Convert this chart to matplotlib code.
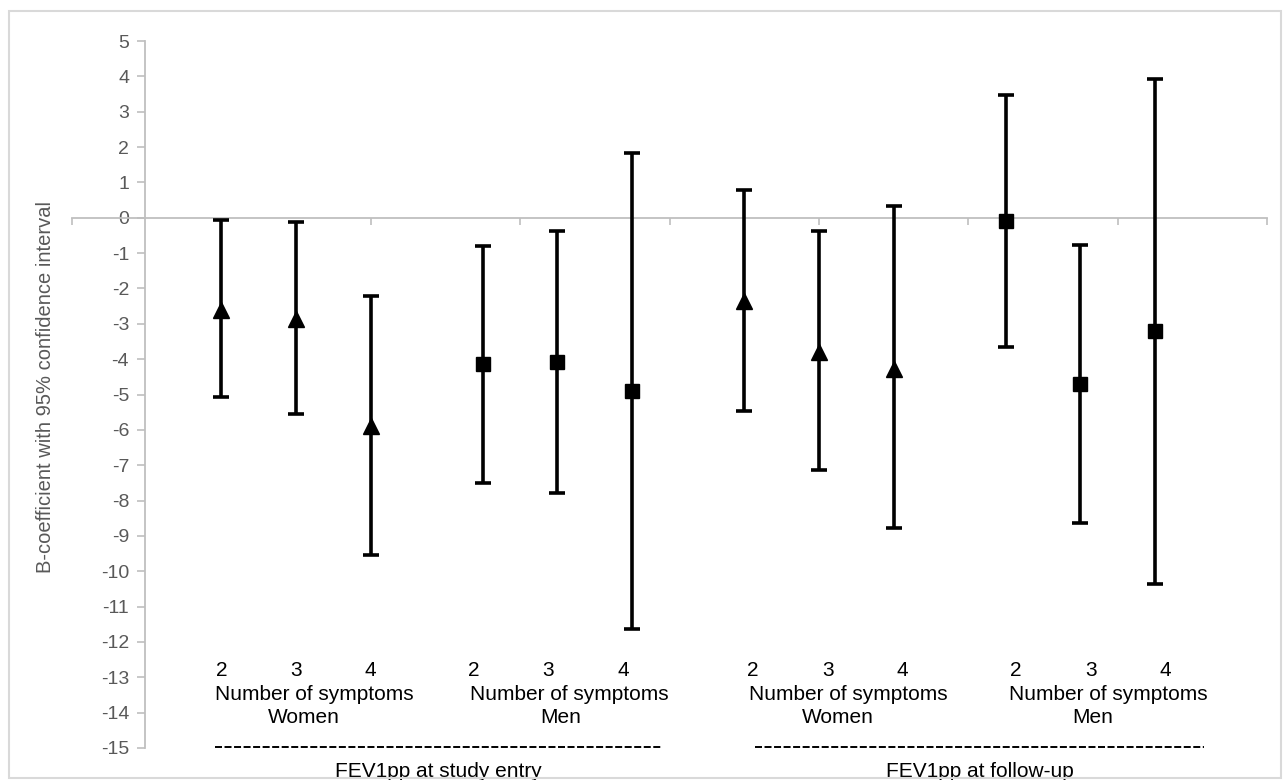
import numpy as np
import matplotlib.pyplot as plt
from matplotlib.patches import Rectangle

plt.rcParams['font.family'] = ['Liberation Sans', 'DejaVu Sans']

# data: B-coefficient (point) with 95% CI, per number of symptoms
symptoms = [2, 3, 4]

entry_women_b = [-2.60, -2.87, -5.90]
entry_women_lo = [-5.08, -5.56, -9.54]
entry_women_hi = [-0.05, -0.12, -2.22]

entry_men_b = [-4.13, -4.08, -4.90]
entry_men_lo = [-7.49, -7.80, -11.63]
entry_men_hi = [-0.80, -0.38, 1.82]

follow_women_b = [-2.36, -3.81, -4.28]
follow_women_lo = [-5.48, -7.14, -8.79]
follow_women_hi = [0.78, -0.38, 0.33]

follow_men_b = [-0.10, -4.71, -3.20]
follow_men_lo = [-3.67, -8.64, -10.36]
follow_men_hi = [3.46, -0.78, 3.93]

group_names = ["Women", "Men", "Women", "Men"]
period_names = ["FEV1pp at study entry", "FEV1pp at follow-up"]

# layout (category units on an 8-slot axis)
group_start = [1.0, 2.75, 4.5, 6.25]
digit_shift = [0.0, -0.06, 0.06, 0.07]
title_center = [1.62, 3.33, 5.20, 6.94]
sub_center = [1.55, 3.27, 5.13, 6.83]
dash_span = [(0.96, 3.94), (4.57, 7.58)]

W, H = 1283, 780
fig = plt.figure(figsize=(W / 100, H / 100), dpi=100)
ax = fig.add_axes([72 / W, 1 - 748 / H, (1267 - 72) / W, (748 - 41) / H])
ax.set_xlim(0, 8)
ax.set_ylim(-15, 5)

grey = '#BFBFBF'
for side in ['top', 'right']:
    ax.spines[side].set_visible(False)
ax.spines['left'].set_position(('data', 0.492))
ax.spines['bottom'].set_position(('data', 0))
ax.spines['left'].set_bounds(-15, 5)
ax.spines['bottom'].set_bounds(0, 8)
for side in ['left', 'bottom']:
    ax.spines[side].set_color(grey)
    ax.spines[side].set_linewidth(1.3)

yt = np.arange(-15, 6)
ax.set_yticks(yt)
ax.set_yticklabels([str(v) for v in yt])
ax.tick_params(axis='y', direction='out', length=5.8, width=1.2, color=grey,
               labelcolor='#595959', labelsize=14, pad=6)
ax.set_xticks(np.arange(0, 9))
ax.set_xticklabels([])
ax.tick_params(axis='x', direction='out', length=5.3, width=1.2, color=grey)

ax.set_ylabel("B-coefficient with 95% confidence interval", color='#595959', fontsize=14.5)
ax.yaxis.set_label_coords(-0.0142, 0.51)

series = [
    (entry_women_b, entry_women_lo, entry_women_hi, '^', 11),
    (entry_men_b, entry_men_lo, entry_men_hi, 's', 10),
    (follow_women_b, follow_women_lo, follow_women_hi, '^', 11),
    (follow_men_b, follow_men_lo, follow_men_hi, 's', 10),
]
for g, (b, lo, hi, mk, ms) in enumerate(series):
    b = np.array(b)
    x = group_start[g] + 0.5 * (np.array(symptoms) - 2)
    err = [b - np.array(lo), np.array(hi) - b]
    ax.errorbar(x, b, yerr=err, fmt=mk, color='black', ms=ms, capsize=5.5,
                capthick=2.6, elinewidth=2.6, zorder=5)
    for xi, s in zip(x, symptoms):
        ax.text(xi + digit_shift[g], -12.81, str(s), ha='center', va='center', fontsize=15)
    ax.text(title_center[g], -13.49, "Number of symptoms", ha='center', va='center', fontsize=15)
    ax.text(sub_center[g], -14.14, group_names[g], ha='center', va='center', fontsize=15)

for (x0, x1), name in zip(dash_span, period_names):
    ax.plot([x0, x1], [-14.96, -14.96], color='black', lw=1.4, dashes=(3.6, 1.3),
            solid_capstyle='butt', clip_on=False)
    ax.text((x0 + x1) / 2, -15.67, name, ha='center', va='center', fontsize=15, clip_on=False)

fig.patches.append(Rectangle((9 / W, 1 - 778 / H), (1281 - 9) / W, (778 - 11) / H,
                             transform=fig.transFigure, fill=False, ec='#D9D9D9', lw=1.5))

fig.savefig('out.png', dpi=100)
